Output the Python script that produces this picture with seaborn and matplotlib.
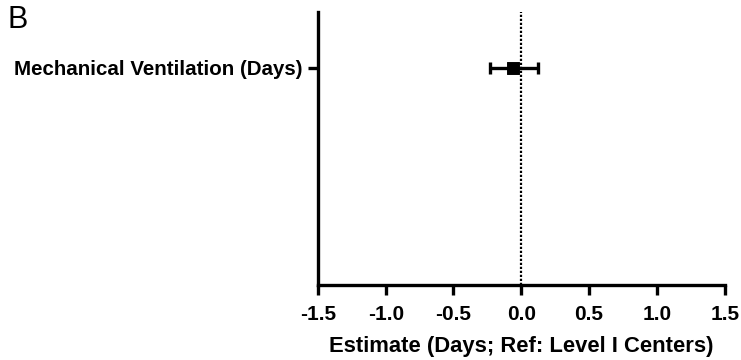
import matplotlib
matplotlib.use("Agg")
import matplotlib.pyplot as plt
import seaborn as sns
import pandas as pd

# ─── Dados ────────────────────────────────────────────────────────────────────
rotulos = ["Mechanical Ventilation (Days)"]
estimativas = [-0.06]
ic_inferior = [-0.23]
ic_superior = [0.12]
n_linhas = 3  # duas linhas ocultas (redigidas) na figura original
x_ticks = [-1.5, -1.0, -0.5, 0.0, 0.5, 1.0, 1.5]

sns.set_theme(style="white")
plt.rcParams["font.family"] = ["Liberation Sans", "DejaVu Sans"]
plt.rcParams["text.color"] = "black"
plt.rcParams["axes.labelcolor"] = "black"
plt.rcParams["xtick.color"] = "black"
plt.rcParams["ytick.color"] = "black"

df = pd.DataFrame({
    "rotulo": rotulos,
    "pos": range(len(rotulos)),
    "est": estimativas,
    "lo": ic_inferior,
    "hi": ic_superior,
})

fig = plt.figure(figsize=(7.41, 3.6), dpi=100)
ax = fig.add_axes([0.429, 0.208, 0.549, 0.758])

# Linha de referência em zero
ax.axvline(0, color="black", linestyle=(0, (1, 0.8)), linewidth=1.6, zorder=1)

# Intervalos de confiança
ax.errorbar(df["est"], df["pos"],
            xerr=[df["est"] - df["lo"], df["hi"] - df["est"]],
            fmt="none", ecolor="black", elinewidth=2.4,
            capsize=4.5, capthick=2.4, zorder=2)

# Estimativas pontuais
sns.scatterplot(data=df, x="est", y="pos", marker="s", s=70,
                color="black", edgecolor="black", ax=ax, zorder=3, legend=False)

ax.set_xlim(-1.5, 1.5)
ax.set_ylim(n_linhas - 1 + 0.69, -0.69)
ax.set_xticks(x_ticks)
ax.set_xticklabels([f"{v:.1f}" for v in x_ticks], fontsize=15, fontweight="bold")
ax.set_yticks(df["pos"])
ax.set_yticklabels(df["rotulo"], fontsize=14.8, fontweight="bold")
ax.set_xlabel("Estimate (Days; Ref: Level I Centers)", fontsize=15.8,
              fontweight="bold", labelpad=9)
ax.set_ylabel("")

for lado in ["top", "right"]:
    ax.spines[lado].set_visible(False)
for lado in ["left", "bottom"]:
    ax.spines[lado].set_linewidth(2.4)
    ax.spines[lado].set_color("black")

ax.tick_params(axis="both", which="major", bottom=True, left=True,
               length=7, width=2.4, color="black", direction="out", pad=4)
ax.tick_params(axis="x", pad=7)

fig.text(0.01, 0.985, "B", fontsize=22, color="black", va="top")

plt.savefig("out.png", dpi=100)
plt.close()
